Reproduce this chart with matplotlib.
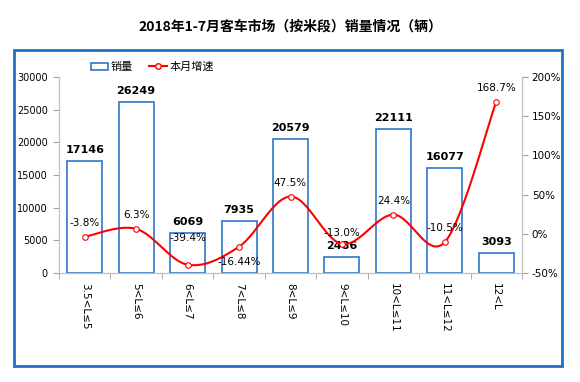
import numpy as np
import matplotlib
matplotlib.use("Agg")
import matplotlib.pyplot as plt
from matplotlib.lines import Line2D
from matplotlib.patches import Rectangle

plt.rcParams['font.family'] = ['DejaVu Sans', 'Noto Sans CJK SC']

categories = ["3.5<L≤5", "5<L≤6", "6<L≤7", "7<L≤8", "8<L≤9", "9<L≤10", "10<L≤11", "11<L≤12", "12<L"]
sales = [17146, 26249, 6069, 7935, 20579, 2486, 22111, 16077, 3093]
growth = [-3.8, 6.3, -39.4, -16.44, 47.5, -13.0, 24.4, -10.5, 168.7]
growth_labels = ["-3.8%", "6.3%", "-39.4%", "-16.44%", "47.5%", "-13.0%", "24.4%", "-10.5%", "168.7%"]

# label offsets in points (style, not data)
label_offsets = [10, 10, 19, -11, 10, 8, 10, 10, 10]

W, H = 580, 382
fig = plt.figure(figsize=(W / 100, H / 100), dpi=100)

fig.patches.append(Rectangle((14 / W, 1 - 366 / H), (562 - 14) / W, (366 - 50) / H,
                             transform=fig.transFigure, fill=False, edgecolor='#1f72c8', linewidth=2))

fig.text(0.5, 1 - 27 / H, "2018年1-7月客车市场（按米段）销量情况（辆）", ha='center', va='center',
         fontsize=10, fontweight='bold', family=['Noto Sans CJK SC', 'DejaVu Sans'])

ax = fig.add_axes([59 / W, 1 - 273 / H, (522 - 59) / W, (273 - 77) / H])
ax2 = ax.twinx()

x = np.arange(len(categories))
bar_color = '#2e75c8'
ax.bar(x, sales, width=0.68, facecolor='white', edgecolor=bar_color, linewidth=1.2, zorder=2)
ax.set_xlim(-0.5, len(categories) - 0.5)
ax.set_ylim(0, 30000)
ax.set_yticks(np.arange(0, 30001, 5000))
ax.set_xticks(x)
ax.set_xticklabels(categories, rotation=-90, fontsize=7.5, va='top', ha='center')
ax.tick_params(axis='x', length=0, pad=7)
ax.set_xticks(np.arange(-0.5, len(categories) + 0.5, 1), minor=True)
ax.tick_params(axis='x', which='minor', length=4, color='#a0a0a0')
ax.tick_params(axis='y', labelsize=7, length=4, color='#a0a0a0', pad=4)
ax.spines['top'].set_visible(False)
ax2.spines['top'].set_visible(False)
for s in ['left', 'right', 'bottom']:
    ax.spines[s].set_color('#c0c0c0')
    ax2.spines[s].set_color('#c0c0c0')

for xi, v in zip(x, sales):
    ax.text(xi, v + 900, str(v), ha='center', va='bottom', fontsize=8, fontweight='bold')

def catmull(xs, ys, n=30):
    pts = np.column_stack([xs, ys]).astype(float)
    p = np.vstack([pts[0], pts, pts[-1]])
    out = []
    for i in range(1, len(p) - 2):
        p0, p1, p2, p3 = p[i - 1], p[i], p[i + 1], p[i + 2]
        t = np.linspace(0, 1, n)[:, None]
        seg = 0.5 * ((2 * p1) + (-p0 + p2) * t + (2 * p0 - 5 * p1 + 4 * p2 - p3) * t ** 2
                     + (-p0 + 3 * p1 - 3 * p2 + p3) * t ** 3)
        out.append(seg)
    o = np.vstack(out)
    return o[:, 0], o[:, 1]

sx, sy = catmull(x, growth)
ax2.plot(sx, sy, color='#ff0000', linewidth=1.5, zorder=3)
ax2.plot(x, growth, linestyle='none', marker='o', markersize=4, markerfacecolor='white',
         markeredgecolor='#ff0000', markeredgewidth=0.8, zorder=4)
ax2.set_ylim(-50, 200)
ax2.set_yticks(np.arange(-50, 201, 50))
ax2.set_yticklabels([f"{v}%" for v in range(-50, 201, 50)])
ax2.tick_params(axis='y', labelsize=7.5, length=4, color='#a0a0a0', pad=3)

for xi, g, lab, off in zip(x, growth, growth_labels, label_offsets):
    ax2.annotate(lab, (xi, g), xytext=(0, off), textcoords='offset points',
                 ha='center', va='center', fontsize=7.5)

handles = [Rectangle((0, 0), 1, 1, facecolor='white', edgecolor=bar_color, linewidth=1.2),
           Line2D([0], [0], color='#ff0000', marker='o', markersize=4, markerfacecolor='white',
                  markeredgecolor='#ff0000', linewidth=1.5)]
fig.legend(handles, ["销量", "本月增速"], loc='center left', bbox_to_anchor=(85 / W, 1 - 67 / H),
           ncol=2, frameon=False, prop={'family': ['Noto Sans CJK SC'], 'size': 8},
           handlelength=1.6, handleheight=0.6, columnspacing=1.5, handletextpad=0.2, borderpad=0)

fig.savefig("out.png", dpi=100)
